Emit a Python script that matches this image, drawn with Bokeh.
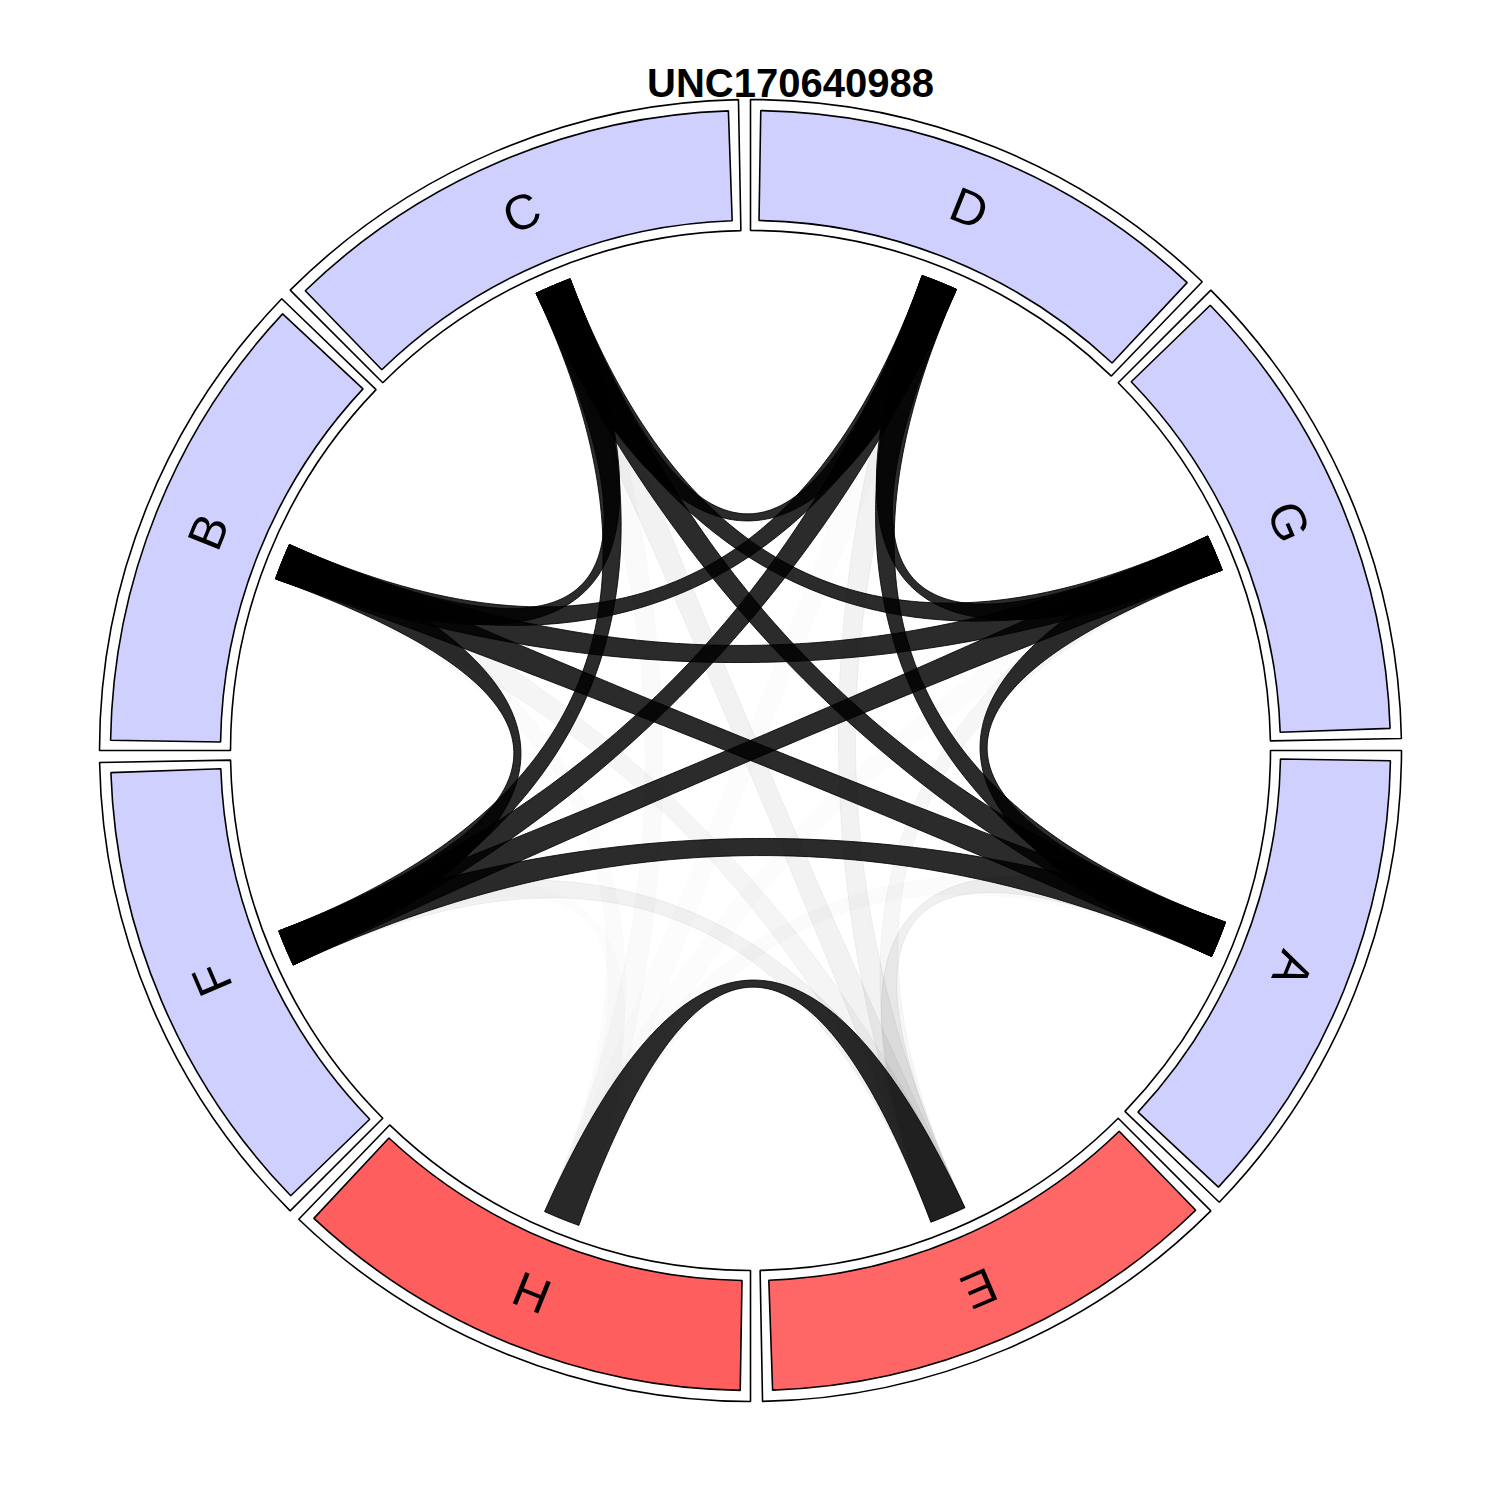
import numpy as np
from bokeh.plotting import figure
from bokeh.models import Range1d, Label, ColumnDataSource
from bokeh.embed import file_html
from bokeh.resources import INLINE
from bokeh.core.properties import value

# ---------------- data ----------------
title_text = "UNC170640988"
sectors = ["D", "G", "A", "E", "H", "F", "B", "C"]          # clockwise from 12 o'clock
sector_colors = ["#D0D0FF", "#D0D0FF", "#D0D0FF", "#FF6666",
                 "#FF5E5E", "#D0D0FF", "#D0D0FF", "#D0D0FF"]

chord_from = ["E", "E", "E", "E", "E", "E",
              "H", "H", "H", "H", "H", "H",
              "C", "C", "C", "C", "C", "D", "D", "D", "D",
              "G", "G", "G", "A", "A", "F", "H"]
chord_to = ["C", "D", "G", "A", "B", "F",
            "C", "D", "G", "A", "B", "F",
            "D", "G", "A", "F", "B", "G", "A", "F", "B",
            "A", "F", "B", "F", "B", "B", "E"]
chord_alpha = [0.05, 0.05, 0.035, 0.06, 0.04, 0.05,
               0.02, 0.012, 0.012, 0.015, 0.015, 0.012,
               0.83, 0.83, 0.83, 0.83, 0.83, 0.83, 0.83, 0.83, 0.83,
               0.83, 0.83, 0.83, 0.83, 0.83, 0.83, 0.83]

# ---------------- layout / style ----------------
ROT = -0.53                 # degrees (compass), whole layout rotation
R_BOX_IN, R_BOX_OUT = 520, 651
R_COL_IN, R_COL_OUT = 530, 640
OUT_GAP, IN_GAP = 0.53, 1.45  # half gaps in degrees
R_LABEL = 585
R_CHORD = 505
HALF_W = 18.5 / R_CHORD       # radians, half width of chord ends

n = len(sectors)
step = 360.0 / n
starts = np.array([k * step + ROT for k in range(n)])
centers = starts + step / 2.0
center_of = {s: np.radians(c) for s, c in zip(sectors, centers)}

def to_math(phi_deg):
    return np.radians(90.0 - phi_deg)

p = figure(width=1500, height=1500, x_range=Range1d(-750, 750), y_range=Range1d(-750, 750),
           x_axis_type=None, y_axis_type=None, toolbar_location=None,
           output_backend="svg", min_border=0)
p.grid.visible = False
p.outline_line_color = None
p.background_fill_color = "white"
p.border_fill_color = "white"

# outer white boxes and coloured inner boxes
box_src = ColumnDataSource(dict(
    start=to_math(starts + step - OUT_GAP), end=to_math(starts + OUT_GAP),
    cstart=to_math(starts + step - IN_GAP), cend=to_math(starts + IN_GAP),
    color=sector_colors))
p.annular_wedge(x=0, y=0, inner_radius=R_BOX_IN, outer_radius=R_BOX_OUT,
                start_angle="start", end_angle="end", source=box_src,
                fill_color="white", line_color="black", line_width=1.6)
p.annular_wedge(x=0, y=0, inner_radius=R_COL_IN, outer_radius=R_COL_OUT,
                start_angle="cstart", end_angle="cend", source=box_src,
                fill_color="color", line_color="black", line_width=1.6)

# labels
lab_phi = np.radians(centers)
p.text(x=list(R_LABEL * np.sin(lab_phi)), y=list(R_LABEL * np.cos(lab_phi)),
       text=sectors, angle=list(-lab_phi), text_align="center", text_baseline="middle",
       text_font=value("Liberation Sans"), text_font_size="49px", text_color="black")

# chord ribbons
def ribbon(pa, pb):
    a1, a2 = pa - HALF_W, pa + HALF_W
    b1, b2 = pb - HALF_W, pb + HALF_W
    t = np.linspace(0, 1, 120)
    xs, ys = [], []
    arc = np.linspace(a1, a2, 12)
    xs += list(R_CHORD * np.sin(arc)); ys += list(R_CHORD * np.cos(arc))
    x0, y0 = R_CHORD * np.sin(a2), R_CHORD * np.cos(a2)
    x2, y2 = R_CHORD * np.sin(b1), R_CHORD * np.cos(b1)
    xs += list((1 - t) ** 2 * x0 + t ** 2 * x2); ys += list((1 - t) ** 2 * y0 + t ** 2 * y2)
    arc = np.linspace(b1, b2, 12)
    xs += list(R_CHORD * np.sin(arc)); ys += list(R_CHORD * np.cos(arc))
    x0, y0 = R_CHORD * np.sin(b2), R_CHORD * np.cos(b2)
    x2, y2 = R_CHORD * np.sin(a1), R_CHORD * np.cos(a1)
    xs += list((1 - t) ** 2 * x0 + t ** 2 * x2); ys += list((1 - t) ** 2 * y0 + t ** 2 * y2)
    return xs, ys

order = np.argsort(chord_alpha, kind="stable")
cx, cy, ca = [], [], []
for i in order:
    xs, ys = ribbon(center_of[chord_from[i]], center_of[chord_to[i]])
    cx.append(xs); cy.append(ys); ca.append(chord_alpha[i])
p.patches(xs="xs", ys="ys", source=ColumnDataSource(dict(xs=cx, ys=cy, a=ca)),
          fill_color="black", fill_alpha="a", line_color="black", line_alpha="a", line_width=1)

# title
p.add_layout(Label(x=40, y=668, text=title_text, text_align="center", text_baseline="alphabetic",
                   text_font="Liberation Sans", text_font_size="40px", text_font_style="bold",
                   text_color="black"))

open("out.html", "w").write(file_html(p, INLINE))
